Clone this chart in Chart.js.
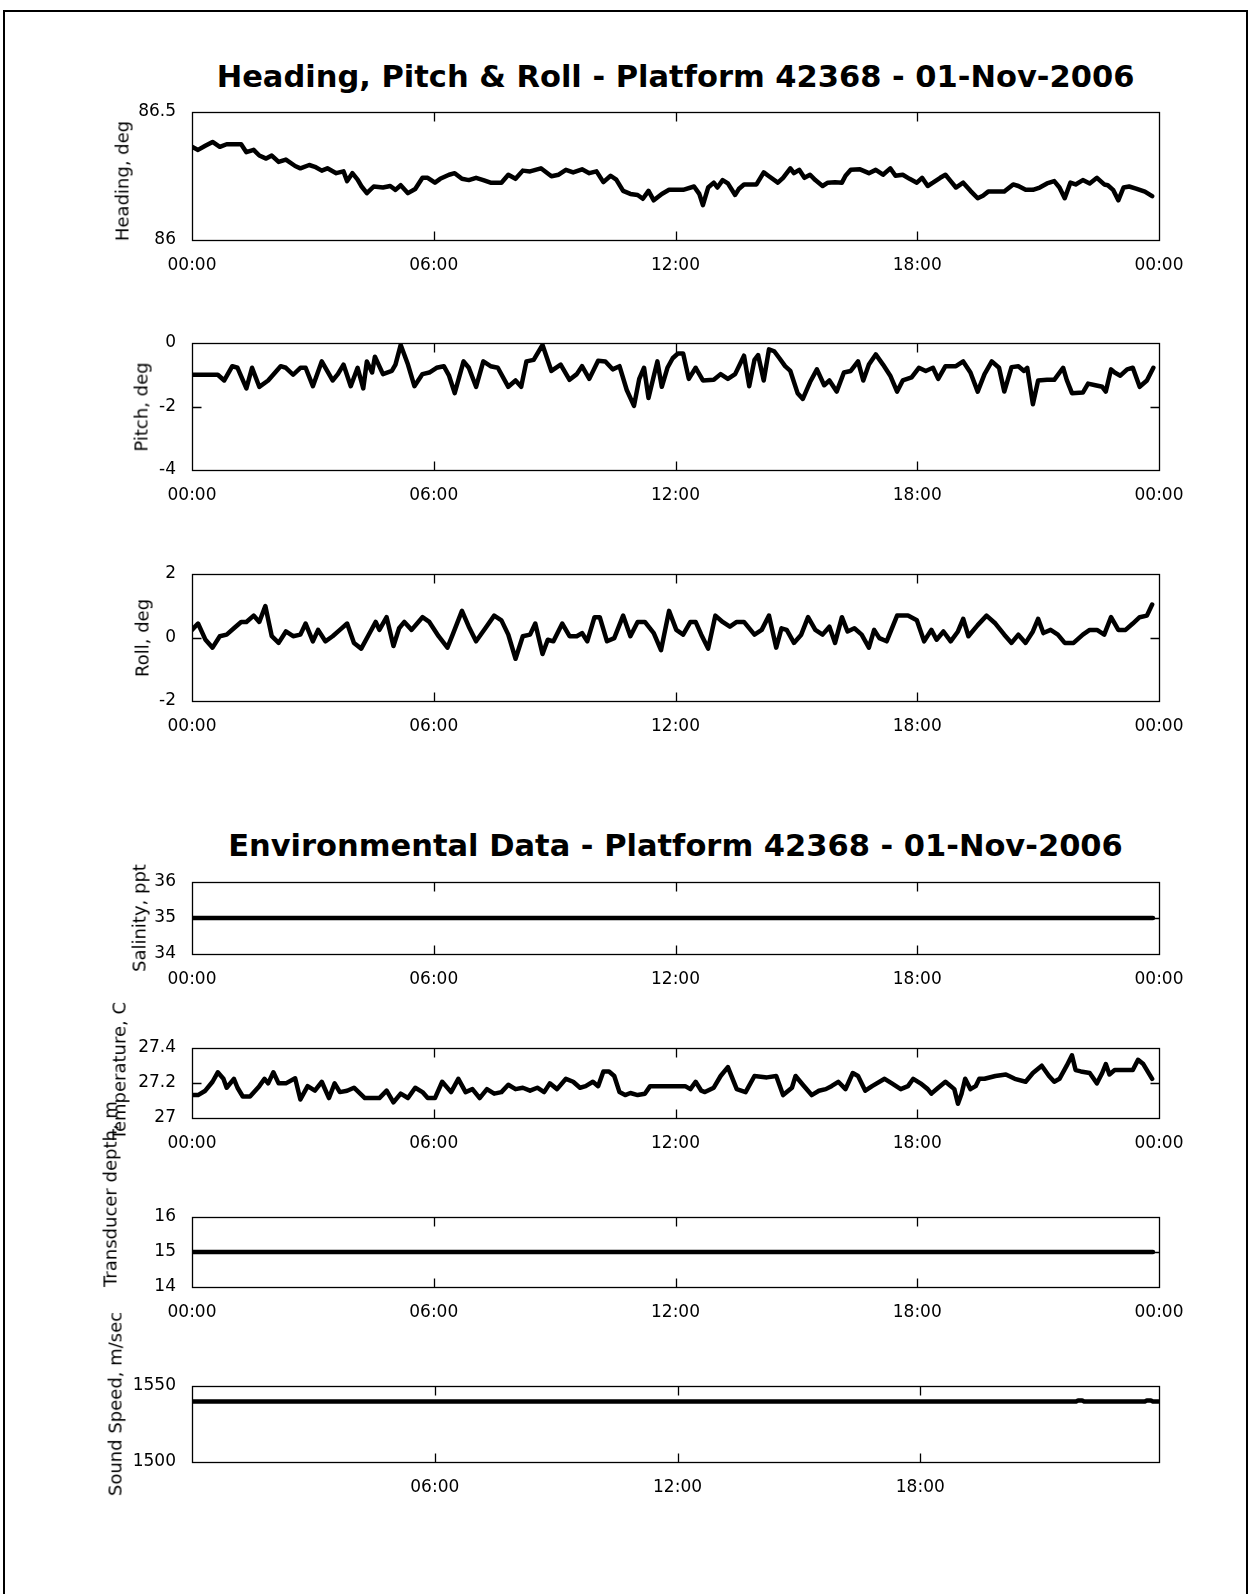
<!DOCTYPE html>
<html>
<head>
<meta charset="utf-8">
<script src="https://cdn.jsdelivr.net/npm/chart.js@4.4.0/dist/chart.umd.min.js"></script>
<style>
  body { margin: 0; background: #fff; }
  #page { position: relative; width: 1250px; height: 1594px; overflow: hidden; background: #fff; }
  #frame { position: absolute; left: 3px; top: 10px; width: 1245px; height: 1620px; border: 2px solid #000; box-sizing: border-box; }
  .title { position: absolute; left: 192px; width: 967px; text-align: center; font: bold 30.5px "DejaVu Sans"; line-height: 30px; white-space: nowrap; }
  .ylab { position: absolute; font: 18px "DejaVu Sans"; white-space: nowrap; transform: translate(-50%, -50%) rotate(-90deg); }
  canvas { position: absolute; left: 0; }
</style>
</head>
<body>
<div id="page">
  <div id="frame"></div>
  <div class="title" style="top:62px">Heading, Pitch &amp; Roll - Platform 42368 - 01-Nov-2006</div>
  <div class="title" style="top:831px">Environmental Data - Platform 42368 - 01-Nov-2006</div>
</div>
<script>
// time of day in hours, tick labels
var xTickHours = [0, 6, 12, 18, 24];
var xTickLabels = ['00:00', '06:00', '12:00', '18:00', '00:00'];

var headingTime = [0, 0.15, 0.33, 0.51, 0.69, 0.86, 1.22, 1.35, 1.53, 1.67, 1.84, 1.98, 2.15, 2.33, 2.56, 2.69, 2.91, 3.05, 3.22, 3.36,
  3.58, 3.76, 3.85, 3.98, 4.11, 4.20, 4.34, 4.51, 4.74, 4.92, 5.05, 5.18, 5.36, 5.54, 5.72, 5.85, 6.03, 6.16, 6.38, 6.52,
  6.70, 6.87, 7.05, 7.23, 7.41, 7.68, 7.85, 8.03, 8.21, 8.39, 8.66, 8.92, 9.10, 9.28, 9.46, 9.68, 9.86, 10.04, 10.21, 10.39,
  10.53, 10.70, 10.88, 11.06, 11.19, 11.33, 11.46, 11.66, 11.84, 12.19, 12.46, 12.59, 12.68, 12.81, 12.95, 13.04, 13.17, 13.30, 13.48, 13.57,
  13.70, 14.01, 14.19, 14.32, 14.54, 14.67, 14.85, 14.94, 15.07, 15.20, 15.34, 15.47, 15.65, 15.78, 15.96, 16.13, 16.22, 16.35, 16.58, 16.80,
  16.97, 17.15, 17.33, 17.46, 17.64, 17.81, 17.99, 18.12, 18.26, 18.39, 18.57, 18.70, 18.83, 18.96, 19.14, 19.32, 19.50, 19.63, 19.76, 20.16,
  20.38, 20.51, 20.69, 20.87, 21.04, 21.22, 21.40, 21.53, 21.66, 21.80, 21.93, 22.11, 22.28, 22.46, 22.64, 22.73, 22.86, 22.99, 23.12, 23.26,
  23.43, 23.65, 23.83];
var headingDeg = [86.364, 86.352, 86.368, 86.383, 86.364, 86.374, 86.374, 86.343, 86.352, 86.330, 86.318, 86.330, 86.305, 86.314, 86.289, 86.280, 86.293, 86.286, 86.271, 86.280,
  86.261, 86.268, 86.230, 86.261, 86.236, 86.211, 86.183, 86.209, 86.205, 86.211, 86.196, 86.214, 86.183, 86.199, 86.243, 86.243, 86.224, 86.239, 86.255, 86.261,
  86.239, 86.234, 86.243, 86.234, 86.224, 86.224, 86.255, 86.239, 86.271, 86.268, 86.280, 86.249, 86.255, 86.274, 86.264, 86.276, 86.261, 86.268, 86.226, 86.251,
  86.236, 86.192, 86.180, 86.176, 86.161, 86.192, 86.155, 86.180, 86.196, 86.196, 86.209, 86.180, 86.136, 86.205, 86.224, 86.205, 86.234, 86.221, 86.176, 86.199,
  86.217, 86.217, 86.264, 86.249, 86.224, 86.243, 86.280, 86.261, 86.274, 86.243, 86.255, 86.234, 86.211, 86.224, 86.226, 86.224, 86.251, 86.274, 86.276, 86.261,
  86.274, 86.255, 86.280, 86.251, 86.255, 86.239, 86.224, 86.243, 86.211, 86.224, 86.243, 86.255, 86.230, 86.205, 86.224, 86.192, 86.163, 86.173, 86.189, 86.189,
  86.217, 86.211, 86.196, 86.196, 86.205, 86.221, 86.230, 86.205, 86.163, 86.224, 86.217, 86.234, 86.221, 86.243, 86.217, 86.214, 86.196, 86.155, 86.205, 86.209,
  86.201, 86.189, 86.171];

var pitchTime = [0, 0.64, 0.80, 1.00, 1.13, 1.35, 1.49, 1.67, 1.89, 2.20, 2.33, 2.51, 2.69, 2.82, 3.00, 3.22, 3.49, 3.62, 3.76, 3.94,
  4.11, 4.25, 4.34, 4.47, 4.54, 4.74, 4.96, 5.05, 5.18, 5.36, 5.52, 5.72, 5.89, 6.07, 6.25, 6.38, 6.52, 6.74, 6.87, 7.05,
  7.23, 7.41, 7.59, 7.85, 8.03, 8.17, 8.30, 8.48, 8.70, 8.92, 9.15, 9.37, 9.55, 9.68, 9.86, 10.08, 10.26, 10.44, 10.61, 10.79,
  10.97, 11.10, 11.22, 11.33, 11.46, 11.55, 11.66, 11.80, 11.93, 12.06, 12.19, 12.33, 12.50, 12.68, 12.95, 13.12, 13.30, 13.48, 13.70, 13.83,
  13.96, 14.05, 14.19, 14.32, 14.45, 14.58, 14.72, 14.85, 15.03, 15.16, 15.34, 15.51, 15.69, 15.82, 16.00, 16.18, 16.35, 16.53, 16.66, 16.80,
  16.97, 17.15, 17.33, 17.50, 17.64, 17.86, 18.04, 18.21, 18.39, 18.52, 18.70, 18.96, 19.14, 19.32, 19.50, 19.67, 19.85, 20.03, 20.16, 20.34,
  20.51, 20.65, 20.73, 20.87, 21.00, 21.22, 21.40, 21.62, 21.71, 21.84, 22.11, 22.24, 22.42, 22.59, 22.68, 22.81, 22.90, 23.04, 23.21, 23.35,
  23.52, 23.70, 23.86];
var pitchDeg = [-1.0, -1.0, -1.18, -0.73, -0.78, -1.43, -0.78, -1.38, -1.18, -0.73, -0.78, -1.00, -0.78, -0.78, -1.36, -0.58, -1.18, -0.98, -0.68, -1.36,
  -0.78, -1.43, -0.58, -0.93, -0.43, -0.98, -0.88, -0.68, -0.06, -0.68, -1.36, -0.98, -0.93, -0.78, -0.73, -1.03, -1.58, -0.58, -0.78, -1.38,
  -0.58, -0.73, -0.78, -1.38, -1.18, -1.38, -0.58, -0.53, -0.06, -0.88, -0.68, -1.16, -0.98, -0.73, -1.13, -0.56, -0.58, -0.83, -0.73, -1.48,
  -1.98, -1.13, -0.78, -1.73, -1.05, -0.58, -1.38, -0.78, -0.48, -0.33, -0.33, -1.13, -0.78, -1.18, -1.16, -0.98, -1.13, -0.98, -0.40, -1.36,
  -0.53, -0.38, -1.18, -0.20, -0.26, -0.48, -0.73, -0.88, -1.58, -1.76, -1.23, -0.83, -1.33, -1.18, -1.53, -0.93, -0.88, -0.58, -1.18, -0.68,
  -0.36, -0.68, -1.03, -1.53, -1.18, -1.08, -0.78, -0.88, -0.78, -1.13, -0.73, -0.73, -0.58, -0.93, -1.53, -0.98, -0.58, -0.78, -1.53, -0.76,
  -0.73, -0.88, -0.78, -1.93, -1.18, -1.16, -1.16, -0.78, -1.16, -1.58, -1.56, -1.28, -1.33, -1.38, -1.53, -0.83, -0.93, -1.03, -0.83, -0.78,
  -1.38, -1.18, -0.78];

var rollTime = [0, 0.15, 0.33, 0.51, 0.69, 0.86, 1.04, 1.22, 1.35, 1.53, 1.67, 1.82, 1.98, 2.15, 2.33, 2.51, 2.69, 2.82, 3.00, 3.13,
  3.31, 3.49, 3.67, 3.85, 4.02, 4.20, 4.43, 4.56, 4.65, 4.83, 5.00, 5.14, 5.27, 5.45, 5.72, 5.89, 6.12, 6.34, 6.47, 6.70,
  6.87, 7.05, 7.28, 7.50, 7.68, 7.85, 8.03, 8.21, 8.39, 8.52, 8.70, 8.83, 8.97, 9.19, 9.37, 9.55, 9.68, 9.81, 9.99, 10.12,
  10.30, 10.48, 10.70, 10.88, 11.06, 11.24, 11.46, 11.64, 11.84, 12.02, 12.19, 12.37, 12.50, 12.64, 12.81, 12.99, 13.17, 13.35, 13.52, 13.70,
  13.96, 14.14, 14.32, 14.50, 14.63, 14.76, 14.94, 15.12, 15.29, 15.47, 15.65, 15.82, 15.96, 16.13, 16.27, 16.44, 16.62, 16.80, 16.93, 17.06,
  17.24, 17.50, 17.77, 17.99, 18.17, 18.35, 18.48, 18.65, 18.83, 19.01, 19.14, 19.27, 19.50, 19.72, 19.94, 20.16, 20.34, 20.51, 20.69, 20.87,
  21.00, 21.13, 21.31, 21.49, 21.66, 21.88, 22.11, 22.28, 22.46, 22.64, 22.81, 22.99, 23.17, 23.35, 23.52, 23.70, 23.83];
var rollDeg = [0.24, 0.44, -0.06, -0.32, 0.04, 0.09, 0.29, 0.49, 0.49, 0.69, 0.49, 0.99, 0.04, -0.17, 0.19, 0.04, 0.09, 0.44, -0.12, 0.24,
  -0.12, 0.04, 0.24, 0.44, -0.17, -0.35, 0.19, 0.49, 0.24, 0.64, -0.27, 0.29, 0.49, 0.24, 0.64, 0.49, 0.04, -0.32, 0.09, 0.84,
  0.34, -0.12, 0.29, 0.69, 0.54, 0.09, -0.67, 0.04, 0.09, 0.44, -0.52, -0.07, -0.12, 0.44, 0.04, 0.04, 0.14, -0.12, 0.64, 0.64,
  -0.12, -0.02, 0.69, 0.04, 0.49, 0.49, 0.14, -0.40, 0.84, 0.24, 0.09, 0.49, 0.49, 0.09, -0.35, 0.69, 0.49, 0.34, 0.49, 0.49,
  0.09, 0.24, 0.69, -0.32, 0.29, 0.24, -0.17, 0.09, 0.64, 0.24, 0.09, 0.34, -0.17, 0.64, 0.19, 0.29, 0.09, -0.32, 0.24, -0.02,
  -0.12, 0.69, 0.69, 0.54, -0.12, 0.24, -0.07, 0.19, -0.12, 0.19, 0.59, 0.04, 0.39, 0.69, 0.44, 0.09, -0.17, 0.09, -0.17, 0.19,
  0.59, 0.14, 0.24, 0.09, -0.17, -0.17, 0.09, 0.24, 0.24, 0.09, 0.64, 0.24, 0.24, 0.44, 0.64, 0.69, 1.04];

var salinityTime = [0, 23.85];
var salinityPpt = [35, 35];

var tempTime = [0, 0.15, 0.33, 0.51, 0.64, 0.78, 0.86, 1.04, 1.13, 1.26, 1.44, 1.67, 1.80, 1.89, 2.02, 2.15, 2.33, 2.56, 2.69, 2.87,
  3.05, 3.22, 3.40, 3.54, 3.67, 3.85, 4.02, 4.29, 4.65, 4.83, 5.00, 5.18, 5.36, 5.54, 5.72, 5.85, 6.03, 6.21, 6.43, 6.61,
  6.79, 6.96, 7.14, 7.32, 7.50, 7.68, 7.85, 8.03, 8.21, 8.39, 8.57, 8.74, 8.88, 9.06, 9.28, 9.46, 9.63, 9.77, 9.95, 10.08,
  10.21, 10.35, 10.48, 10.61, 10.75, 10.88, 11.06, 11.24, 11.37, 11.67, 12.24, 12.37, 12.50, 12.64, 12.73, 12.95, 13.12, 13.30, 13.52, 13.74,
  13.96, 14.27, 14.50, 14.67, 14.89, 14.98, 15.16, 15.38, 15.56, 15.73, 15.87, 16.04, 16.22, 16.40, 16.53, 16.71, 16.88, 17.19, 17.37, 17.59,
  17.77, 17.90, 18.08, 18.26, 18.35, 18.52, 18.70, 18.92, 19.01, 19.10, 19.19, 19.32, 19.45, 19.54, 19.67, 19.94, 20.20, 20.42, 20.69, 20.87,
  21.09, 21.27, 21.40, 21.53, 21.71, 21.84, 21.93, 22.06, 22.28, 22.46, 22.59, 22.68, 22.77, 22.90, 23.17, 23.35, 23.48, 23.61, 23.83];
var tempC = [27.131, 27.131, 27.156, 27.207, 27.261, 27.224, 27.173, 27.224, 27.173, 27.123, 27.123, 27.182, 27.224, 27.198, 27.261, 27.198, 27.198, 27.227, 27.106, 27.182,
  27.156, 27.207, 27.114, 27.198, 27.148, 27.156, 27.173, 27.114, 27.114, 27.156, 27.089, 27.139, 27.114, 27.173, 27.148, 27.114, 27.114, 27.207, 27.148, 27.224,
  27.148, 27.165, 27.114, 27.165, 27.139, 27.148, 27.190, 27.165, 27.173, 27.156, 27.173, 27.148, 27.198, 27.165, 27.224, 27.207, 27.173, 27.182, 27.207, 27.182,
  27.266, 27.266, 27.240, 27.148, 27.131, 27.143, 27.131, 27.139, 27.182, 27.182, 27.182, 27.165, 27.207, 27.156, 27.148, 27.173, 27.240, 27.291, 27.165, 27.148,
  27.240, 27.232, 27.240, 27.131, 27.173, 27.240, 27.190, 27.131, 27.156, 27.165, 27.182, 27.207, 27.165, 27.257, 27.240, 27.156, 27.182, 27.224, 27.198, 27.165,
  27.182, 27.224, 27.198, 27.165, 27.139, 27.173, 27.207, 27.165, 27.081, 27.139, 27.224, 27.165, 27.182, 27.224, 27.224, 27.240, 27.249, 27.224, 27.207, 27.257,
  27.299, 27.240, 27.207, 27.224, 27.299, 27.358, 27.274, 27.266, 27.257, 27.198, 27.257, 27.308, 27.249, 27.274, 27.274, 27.274, 27.333, 27.308, 27.224];

var depthTime = [0, 23.85];
var depthM = [15, 15];

var soundTime = [0, 21.85, 21.9, 22.0, 22.05, 23.55, 23.6, 23.7, 23.75, 23.9];
var soundSpeed = [1539.8, 1539.8, 1540.5, 1540.5, 1539.8, 1539.8, 1540.5, 1540.5, 1539.8, 1539.8];

var headingTicks = [86, 86.5];
var pitchTicks = [-4, -2, 0];
var rollTicks = [-2, 0, 2];
var salinityTicks = [34, 35, 36];
var tempTicks = [27, 27.2, 27.4];
var depthTicks = [14, 15, 16];
var soundTicks = [1500, 1550];

var FONT = 'DejaVu Sans';
var PLOT_LEFT = 192, PLOT_RIGHT = 1159, PAD_TOP = 20, AXIS_H = 42;

// draws the box round the axes and the inward tick marks
var boxTicks = {
  id: 'boxTicks',
  afterDraw: function (chart) {
    var a = chart.chartArea, ctx = chart.ctx, xs = chart.scales.x, ys = chart.scales.y;
    var l = Math.round(a.left) + 0.5, r = Math.round(a.right) + 0.5;
    var t = Math.round(a.top) + 0.5, b = Math.round(a.bottom) + 0.5;
    ctx.save();
    ctx.strokeStyle = '#000';
    ctx.lineWidth = 1.3;
    ctx.strokeRect(l, t, r - l, b - t);
    ctx.beginPath();
    xs.ticks.forEach(function (tk) {
      var px = Math.round(xs.getPixelForValue(tk.value)) + 0.5;
      if (px <= l + 2 || px >= r - 2) return;
      ctx.moveTo(px, t); ctx.lineTo(px, t + 9);
      ctx.moveTo(px, b); ctx.lineTo(px, b - 9);
    });
    ys.ticks.forEach(function (tk) {
      var py = Math.round(ys.getPixelForValue(tk.value)) + 0.5;
      if (py <= t + 2 || py >= b - 2) return;
      ctx.moveTo(l, py); ctx.lineTo(l + 9, py);
      ctx.moveTo(r, py); ctx.lineTo(r - 9, py);
    });
    ctx.stroke();
    ctx.restore();
  }
};

function addLabel(text, cx, cy) {
  var d = document.createElement('div');
  d.className = 'ylab';
  d.textContent = text;
  d.style.left = cx + 'px';
  d.style.top = cy + 'px';
  document.getElementById('page').appendChild(d);
}

function makePanel(p) {
  var page = document.getElementById('page');
  var cv = document.createElement('canvas');
  var h = PAD_TOP + (p.bottom - p.top) + AXIS_H;
  cv.width = 1250; cv.height = h;
  cv.style.top = (p.top - PAD_TOP) + 'px';
  page.appendChild(cv);
  addLabel(p.label, p.labelX, p.labelY);

  var xt = p.xTicks || xTickHours;
  var pts = p.time.map(function (t, i) { return { x: t, y: p.values[i] }; });

  new Chart(cv.getContext('2d'), {
    type: 'line',
    data: {
      datasets: [{
        data: pts,
        borderColor: '#000',
        borderWidth: 4.5,
        borderJoinStyle: 'round',
        borderCapStyle: 'round',
        pointRadius: 0,
        tension: 0,
        fill: false
      }]
    },
    options: {
      responsive: false,
      animation: false,
      events: [],
      layout: { padding: { top: PAD_TOP, right: 1250 - PLOT_RIGHT, left: 0, bottom: 0 } },
      plugins: { legend: { display: false }, tooltip: { enabled: false } },
      scales: {
        x: {
          type: 'linear',
          min: 0,
          max: p.xMax || 24,
          grid: { display: false },
          border: { display: false },
          afterBuildTicks: function (s) { s.ticks = xt.map(function (v) { return { value: v }; }); },
          afterFit: function (s) { s.height = AXIS_H; },
          ticks: {
            autoSkip: false,
            maxRotation: 0,
            padding: 7,
            color: '#000',
            font: { family: FONT, size: 17 },
            callback: function (v) { return xTickLabels[xTickHours.indexOf(v)]; }
          }
        },
        y: {
          min: p.ticks[0],
          max: p.ticks[p.ticks.length - 1],
          grid: { display: false },
          border: { display: false },
          afterBuildTicks: function (s) { s.ticks = p.ticks.map(function (v) { return { value: v }; }); },
          afterFit: function (s) { s.width = PLOT_LEFT; },
          ticks: {
            padding: 8,
            color: '#000',
            font: { family: FONT, size: 17 },
            callback: function (v) { return String(v); }
          }
        }
      }
    },
    plugins: [boxTicks]
  });
}

makePanel({ time: headingTime, values: headingDeg, ticks: headingTicks, top: 112, bottom: 240, label: 'Heading, deg', labelX: 122, labelY: 181 });
makePanel({ time: pitchTime, values: pitchDeg, ticks: pitchTicks, top: 343, bottom: 470, label: 'Pitch, deg', labelX: 141, labelY: 407 });
makePanel({ time: rollTime, values: rollDeg, ticks: rollTicks, top: 574, bottom: 701, label: 'Roll, deg', labelX: 142, labelY: 638 });
makePanel({ time: salinityTime, values: salinityPpt, ticks: salinityTicks, top: 882, bottom: 954, label: 'Salinity, ppt', labelX: 139, labelY: 918 });
makePanel({ time: tempTime, values: tempC, ticks: tempTicks, top: 1048, bottom: 1118, label: 'Temperature, C', labelX: 119, labelY: 1071 });
makePanel({ time: depthTime, values: depthM, ticks: depthTicks, top: 1217, bottom: 1287, label: 'Transducer depth, m', labelX: 110, labelY: 1194 });
makePanel({ time: soundTime, values: soundSpeed, ticks: soundTicks, top: 1386, bottom: 1462, label: 'Sound Speed, m/sec', labelX: 115, labelY: 1404, xMax: 23.9, xTicks: [6, 12, 18] });
</script>
</body>
</html>
